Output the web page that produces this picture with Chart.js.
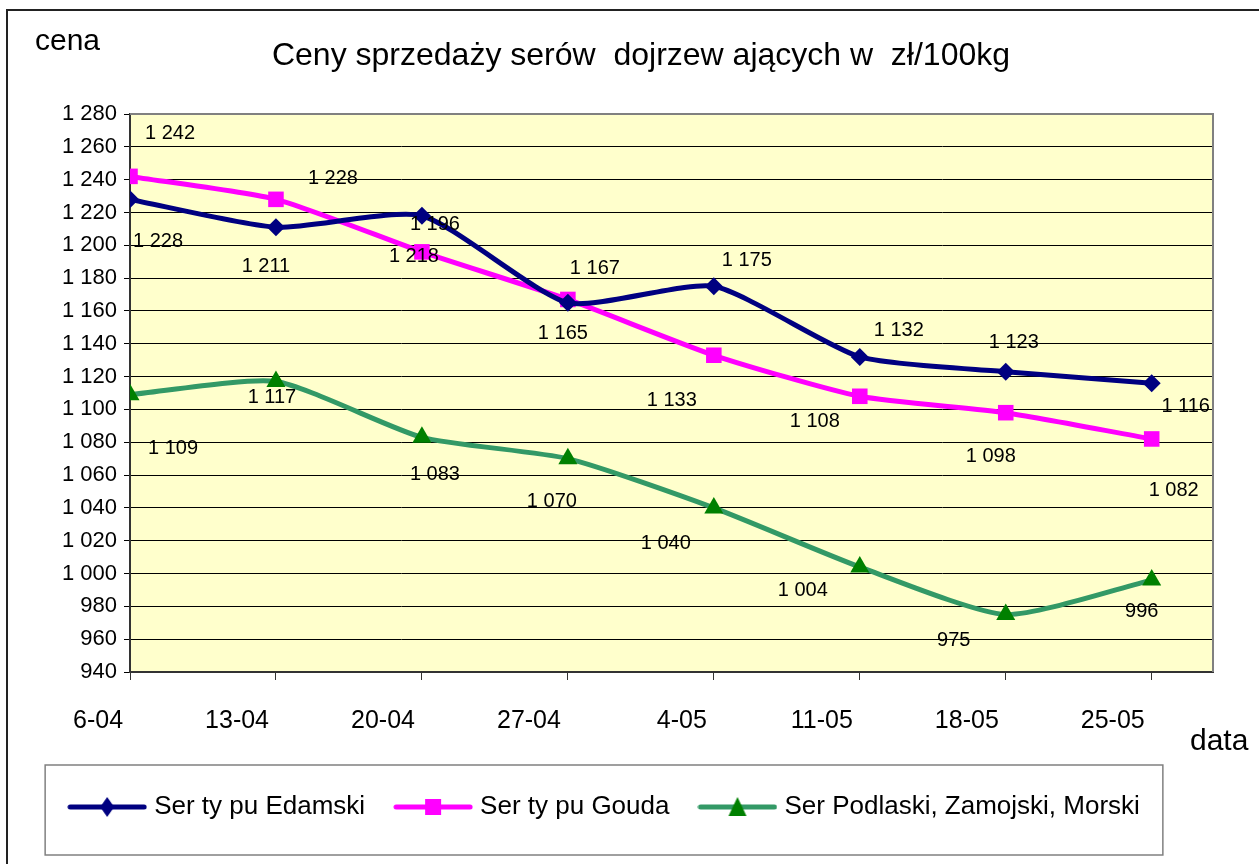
<!DOCTYPE html>
<html lang="pl">
<head>
    <meta charset="UTF-8">
    <title>Ceny sprzedaży serów dojrzewających</title>
    <script src="https://cdn.jsdelivr.net/npm/chart.js"></script>
    <style>
        html, body {
            margin: 0;
            padding: 0;
            background: #ffffff;
        }
        .chart-box {
            position: relative;
            width: 1259px;
            height: 864px;
        }
    </style>
</head>
<body>
    <div class="chart-box">
        <canvas id="cheeseChart"></canvas>
    </div>

    <script>
        // data (zł/100kg)
        const dates = ['6-04', '13-04', '20-04', '27-04', '4-05', '11-05', '18-05', '25-05'];
        const edamski = [1228, 1211, 1218, 1165, 1175, 1132, 1123, 1116];
        const gouda = [1242, 1228, 1196, 1167, 1133, 1108, 1098, 1082];
        const podlaski = [1109, 1117, 1083, 1070, 1040, 1004, 975, 996];
        const seriesNames = ['Ser ty pu Edamski', 'Ser ty pu Gouda', 'Ser Podlaski, Zamojski, Morski'];
        const chartTitle = 'Ceny sprzedaży serów  dojrzew ających w  zł/100kg';
        const yMin = 940;
        const yMax = 1280;
        const yStep = 20;

        // where Excel put each data label, relative to its marker (px)
        const labelOffsets = [
            [[28, 42], [-10, 39], [-8, 41], [-5, 31], [33, -26], [39, -26], [8, -29], [34, 23]],
            [[40, -43], [57, -21], [13, -27], [27, -31], [-42, 45], [-45, 25], [-15, 44], [22, 52]],
            [[43, 54], [-4, 16], [13, 37], [-16, 43], [-48, 36], [-57, 24], [-52, 26], [-10, 31]]
        ];

        const FONT = 'Arial, "Liberation Sans", sans-serif';

        function fmt(v) {
            if (v >= 1000) {
                return Math.floor(v / 1000) + ' ' + String(v % 1000).padStart(3, '0');
            }
            return String(v);
        }

        // little line + marker pictures for the legend
        function legendSample(color, markerColor, shape) {
            const c = document.createElement('canvas');
            c.width = 80;
            c.height = 24;
            const g = c.getContext('2d');
            g.strokeStyle = color;
            g.lineWidth = 5;
            g.lineCap = 'round';
            g.beginPath();
            g.moveTo(3, 12);
            g.lineTo(77, 12);
            g.stroke();
            g.fillStyle = markerColor;
            g.beginPath();
            if (shape === 'diamond') {
                g.moveTo(40, 2); g.lineTo(47, 12); g.lineTo(40, 22); g.lineTo(33, 12);
            } else if (shape === 'square') {
                g.rect(32, 4, 16, 16);
            } else {
                g.moveTo(40, 2); g.lineTo(49, 21); g.lineTo(31, 21);
            }
            g.closePath();
            g.fill();
            return c;
        }

        const samples = [
            legendSample('#000080', '#000080', 'diamond'),
            legendSample('#ff00ff', '#ff00ff', 'square'),
            legendSample('#339966', '#008000', 'triangle')
        ];

        const excelLook = {
            id: 'excelLook',
            beforeDraw(chart) {
                const { ctx, chartArea: a } = chart;
                ctx.save();
                ctx.fillStyle = '#ffffcc';
                ctx.fillRect(a.left, a.top, a.right - a.left, a.bottom - a.top);
                ctx.restore();
            },
            beforeDatasetsDraw(chart) {
                const { ctx, chartArea: a } = chart;
                ctx.save();
                ctx.strokeStyle = '#808080';
                ctx.lineWidth = 2;
                ctx.beginPath();
                ctx.moveTo(a.left, a.top);
                ctx.lineTo(a.right, a.top);
                ctx.lineTo(a.right, a.bottom);
                ctx.stroke();
                ctx.restore();
            },
            afterDatasetsDraw(chart) {
                const ctx = chart.ctx;
                ctx.save();
                ctx.font = '20px ' + FONT;
                ctx.fillStyle = '#000';
                ctx.textAlign = 'center';
                ctx.textBaseline = 'middle';
                chart.data.datasets.forEach((ds, di) => {
                    chart.getDatasetMeta(di).data.forEach((pt, i) => {
                        const off = labelOffsets[di][i];
                        ctx.fillText(fmt(ds.data[i].y), pt.x + off[0], pt.y + off[1]);
                    });
                });
                ctx.restore();
            },
            afterDraw(chart) {
                const ctx = chart.ctx;
                ctx.save();
                // outer frame
                ctx.strokeStyle = '#222';
                ctx.lineWidth = 2;
                ctx.strokeRect(7, 10, chart.width + 10, chart.height + 10);

                // title and axis titles
                ctx.fillStyle = '#000';
                ctx.textBaseline = 'alphabetic';
                ctx.font = '32px ' + FONT;
                ctx.textAlign = 'center';
                ctx.fillText(chartTitle, 641, 65);
                ctx.font = '30px ' + FONT;
                ctx.textAlign = 'left';
                ctx.fillText('cena', 35, 50);
                ctx.fillText('data', 1190, 750);

                // legend frame
                const boxes = chart.legend.legendHitBoxes;
                if (boxes && boxes.length) {
                    const left = Math.min(...boxes.map(b => b.left)) - 28;
                    const right = Math.max(...boxes.map(b => b.left + b.width)) + 23;
                    const cy = boxes[0].top + boxes[0].height / 2;
                    ctx.strokeStyle = '#808080';
                    ctx.lineWidth = 1.5;
                    ctx.strokeRect(left, cy - 42, right - left, 90);
                }
                ctx.restore();
            }
        };

        function series(values) {
            return values.map((v, i) => ({ x: i, y: v }));
        }

        new Chart(document.getElementById('cheeseChart'), {
            type: 'line',
            data: {
                datasets: [{
                    label: seriesNames[0],
                    data: series(edamski),
                    borderColor: '#000080',
                    backgroundColor: '#000080',
                    pointStyle: 'rectRot',
                    pointRadius: 9,
                    pointBackgroundColor: '#000080',
                    pointBorderWidth: 0
                }, {
                    label: seriesNames[1],
                    data: series(gouda),
                    borderColor: '#ff00ff',
                    backgroundColor: '#ff00ff',
                    pointStyle: 'rect',
                    pointRadius: 11,
                    pointBackgroundColor: '#ff00ff',
                    pointBorderWidth: 0
                }, {
                    label: seriesNames[2],
                    data: series(podlaski),
                    borderColor: '#339966',
                    backgroundColor: '#008000',
                    pointStyle: 'triangle',
                    pointRadius: 11,
                    pointBackgroundColor: '#008000',
                    pointBorderWidth: 0
                }]
            },
            options: {
                responsive: true,
                maintainAspectRatio: false,
                animation: false,
                elements: {
                    line: { borderWidth: 5, tension: 0.2 }
                },
                layout: {
                    padding: { left: 0, right: 46, top: 114, bottom: 34 }
                },
                scales: {
                    x: {
                        type: 'linear',
                        min: 0,
                        max: 7.42,
                        afterBuildTicks(scale) {
                            scale.ticks = dates.map((d, i) => ({ value: i }));
                        },
                        afterFit(scale) { scale.height = 88; },
                        ticks: {
                            align: 'end',
                            padding: 26,
                            color: '#000',
                            font: { family: FONT, size: 25 },
                            maxRotation: 0,
                            autoSkip: false,
                            callback: (v) => (dates[v] !== undefined ? dates[v] + ' ' : '')
                        },
                        grid: {
                            drawOnChartArea: false,
                            tickLength: 8,
                            color: '#333',
                            lineWidth: 1
                        },
                        border: { color: '#333', width: 2 }
                    },
                    y: {
                        min: yMin,
                        max: yMax,
                        afterFit(scale) { scale.width = 130; },
                        ticks: {
                            stepSize: yStep,
                            padding: 7,
                            color: '#000',
                            font: { family: FONT, size: 22 },
                            callback: (v) => fmt(v)
                        },
                        grid: {
                            color: '#000',
                            lineWidth: 1,
                            tickLength: 6
                        },
                        border: { color: '#333', width: 2 }
                    }
                },
                plugins: {
                    title: { display: false },
                    legend: {
                        position: 'bottom',
                        labels: {
                            usePointStyle: true,
                            pointStyleWidth: 68,
                            boxHeight: 24,
                            padding: 34,
                            color: '#000',
                            font: { family: FONT, size: 26 },
                            generateLabels(chart) {
                                return chart.data.datasets.map((ds, i) => ({
                                    text: ds.label,
                                    pointStyle: samples[i],
                                    fillStyle: ds.borderColor,
                                    strokeStyle: ds.borderColor,
                                    lineWidth: 0,
                                    hidden: false,
                                    datasetIndex: i,
                                    fontColor: '#000'
                                }));
                            }
                        }
                    },
                    tooltip: { enabled: false }
                }
            },
            plugins: [excelLook]
        });
    </script>
</body>
</html>
